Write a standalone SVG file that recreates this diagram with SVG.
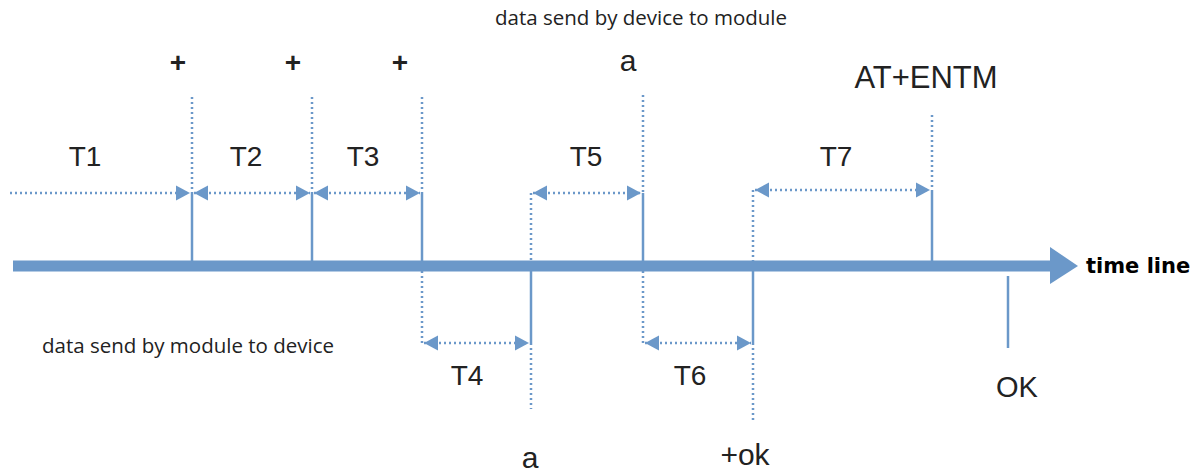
<svg xmlns="http://www.w3.org/2000/svg" width="1199" height="475" viewBox="0 0 1199 475">
<style>
.lbl{font-family:"Liberation Sans",Arial,sans-serif;fill:#222;}
.t{font-size:28px;text-anchor:middle;}
.plus{font-size:28px;font-weight:bold;text-anchor:middle;}
.note{font-family:"Open Sans","Noto Sans",sans-serif;font-size:20.5px;fill:#222;}
.tl{font-family:"DejaVu Sans",sans-serif;font-weight:bold;font-size:21px;fill:#000;}
.solid{stroke:#6b98c9;stroke-width:2.5;fill:none;}
.dot{stroke:#6b98c9;stroke-width:2.5;stroke-dasharray:2 3;fill:none;}
.arr{stroke:#6b98c9;stroke-width:2.5;stroke-dasharray:2 3;fill:none;marker-end:url(#ah);}
.arr2{stroke:#6b98c9;stroke-width:2.5;stroke-dasharray:2 3;fill:none;marker-end:url(#ah);marker-start:url(#ahs);}
</style>
<defs>
<marker id="ah" markerUnits="userSpaceOnUse" markerWidth="15" markerHeight="16" refX="14" refY="7.5" orient="auto" viewBox="0 0 15 15">
<path d="M0,0 L14,7.5 L0,15 Z" fill="#6b98c9"/>
</marker>
<marker id="ahs" markerUnits="userSpaceOnUse" markerWidth="15" markerHeight="16" refX="0" refY="7.5" orient="auto" viewBox="0 0 15 15">
<path d="M14,0 L0,7.5 L14,15 Z" fill="#6b98c9"/>
</marker>
</defs>
<rect width="1199" height="475" fill="#fff"/>

<g id="timeline">
<line x1="13" y1="266" x2="1052" y2="266" stroke="#6b98c9" stroke-width="11"/>
<path d="M1050,247 L1078,266 L1050,284 Z" fill="#6b98c9"/>
<text class="tl" x="1086" y="273">time line</text>
</g>

<g id="notes">
<text class="note" x="495" y="25">data send by device to module</text>
<text class="note" x="42" y="353">data send by module to device</text>
</g>

<g id="connectors">
<line class="dot" x1="192" y1="97" x2="192" y2="192"/>
<line class="solid" x1="192" y1="192" x2="192" y2="261"/>
<line class="dot" x1="312" y1="97" x2="312" y2="192"/>
<line class="solid" x1="312" y1="192" x2="312" y2="261"/>
<line class="dot" x1="422" y1="97" x2="422" y2="192"/>
<line class="solid" x1="422" y1="192" x2="422" y2="261"/>
<line class="dot" x1="422" y1="271" x2="422" y2="343"/>
<line class="dot" x1="531" y1="193" x2="531" y2="261"/>
<line class="solid" x1="531" y1="271" x2="531" y2="343"/>
<line class="dot" x1="531" y1="343" x2="531" y2="409"/>
<line class="dot" x1="643" y1="95" x2="643" y2="193"/>
<line class="solid" x1="643" y1="193" x2="643" y2="261"/>
<line class="dot" x1="643" y1="271" x2="643" y2="343"/>
<line class="dot" x1="753" y1="190" x2="753" y2="261"/>
<line class="solid" x1="753" y1="271" x2="753" y2="343"/>
<line class="dot" x1="753" y1="343" x2="753" y2="420"/>
<line class="dot" x1="932" y1="115" x2="932" y2="190"/>
<line class="solid" x1="932" y1="190" x2="932" y2="261"/>
<line class="solid" x1="1008" y1="276" x2="1008" y2="348"/>
<line class="arr" x1="10" y1="193" x2="190" y2="193"/>
<line class="arr2" x1="194" y1="193" x2="310" y2="193"/>
<line class="arr2" x1="314" y1="193" x2="420" y2="193"/>
<line class="arr2" x1="533" y1="193" x2="641" y2="193"/>
<line class="arr2" x1="755" y1="190" x2="930" y2="190"/>
<line class="arr2" x1="424" y1="343" x2="529" y2="343"/>
<line class="arr2" x1="645" y1="343" x2="751" y2="343"/>
</g>

<g id="intervals">
<text class="lbl t" x="85" y="166">T1</text>
<text class="lbl t" x="246" y="166">T2</text>
<text class="lbl t" x="363" y="166">T3</text>
<text class="lbl t" x="467" y="385">T4</text>
<text class="lbl t" x="586" y="166">T5</text>
<text class="lbl t" x="690" y="385">T6</text>
<text class="lbl t" x="836" y="166">T7</text>
</g>

<g id="event-plus1"><text class="lbl plus" x="178" y="72">+</text></g>
<g id="event-plus2"><text class="lbl plus" x="293" y="72">+</text></g>
<g id="event-plus3"><text class="lbl plus" x="400" y="72">+</text></g>
<g id="event-a-device"><text class="lbl" x="628" y="71" font-size="30" text-anchor="middle">a</text></g>
<g id="event-atentm"><text class="lbl" x="926" y="88" font-size="31" text-anchor="middle">AT+ENTM</text></g>
<g id="event-a-module"><text class="lbl" x="530" y="468" font-size="30" text-anchor="middle">a</text></g>
<g id="event-plusok"><text class="lbl" x="745" y="465" font-size="30" text-anchor="middle">+ok</text></g>
<g id="event-ok"><text class="lbl" x="1017" y="397" font-size="29" text-anchor="middle">OK</text></g>
</svg>
